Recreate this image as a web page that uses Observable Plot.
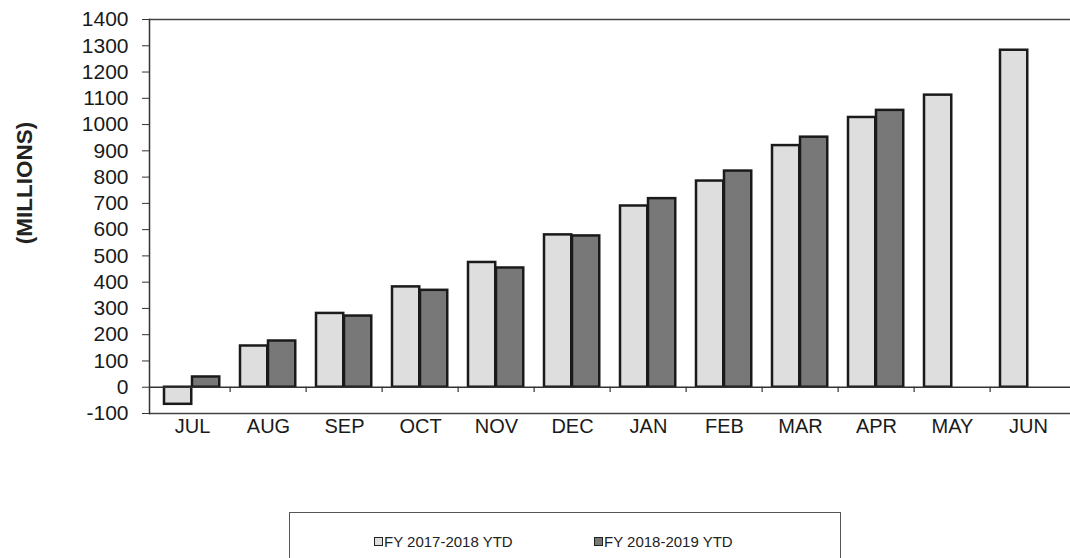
<!DOCTYPE html>
<html>
<head>
<meta charset="utf-8">
<script src="https://cdn.jsdelivr.net/npm/d3@7"></script>
<script src="https://cdn.jsdelivr.net/npm/@observablehq/plot@0.6"></script>
<style>
  html, body { margin: 0; padding: 0; background: #fff; overflow: hidden; }
  #wrap { position: relative; width: 1070px; height: 558px; font-family: "Liberation Sans", Arial, sans-serif; }
  #ylabel { position: absolute; left: 25px; top: 183px; transform: translate(-50%, -50%) rotate(-90deg);
            font-weight: bold; font-size: 22.5px; color: #222; white-space: nowrap; }
  #legend { position: absolute; left: 289px; top: 512px; width: 552px; height: 70px;
            border: 1.5px solid #555; box-sizing: border-box; }
  .item { position: absolute; top: 20px; font-size: 15px; color: #222; display: flex; align-items: center; }
  .sw { width: 7px; height: 7px; border: 1.5px solid #222; margin-right: 1px; }
</style>
</head>
<body>
<div id="wrap">
  <div id="chart"></div>
  <div id="ylabel">(MILLIONS)</div>
  <div id="legend"></div>
</div>
<script>
const months = ["JUL","AUG","SEP","OCT","NOV","DEC","JAN","FEB","MAR","APR","MAY","JUN"];
const series = ["FY 2017-2018 YTD", "FY 2018-2019 YTD"];
const fy1718 = [-65, 157, 281, 382, 475, 580, 690, 785, 920, 1027, 1112, 1283];
const fy1819 = [39, 176, 271, 369, 454, 576, 718, 823, 952, 1054, null, null];
const yTicks = [-100,0,100,200,300,400,500,600,700,800,900,1000,1100,1200,1300,1400];
const colors = ["#dedede", "#787878"];

const rowsA = months.map((m, i) => ({month: m, value: fy1718[i]}));
const rowsB = months.map((m, i) => ({month: m, value: fy1819[i]})).filter(d => d.value != null);
const bounds = months.slice(1);

const width = 1070, height = 470, mL = 149, mR = 0;
const step = (width - mL - mR) / months.length;

const chart = Plot.plot({
  width, height,
  marginLeft: mL, marginRight: mR, marginTop: 19, marginBottom: 57,
  style: {fontFamily: "'Liberation Sans', Arial, sans-serif", fontSize: "21px", color: "#1a1a1a", background: "#fff"},
  x: {domain: months, padding: 0, axis: null},
  y: {domain: [-100, 1400], axis: null},
  marks: [
    Plot.ruleY([-100, 1400], {stroke: "#444", strokeWidth: 1.5}),
    Plot.frame({anchor: "left", stroke: "#333", strokeWidth: 1.5}),
    Plot.barY(rowsA, {x: "month", y: "value", fill: colors[0], stroke: "#1a1a1a", strokeWidth: 2.5,
      insetLeft: 10, insetRight: step - 38}),
    Plot.barY(rowsB, {x: "month", y: "value", fill: colors[1], stroke: "#1a1a1a", strokeWidth: 2.5,
      insetLeft: 38, insetRight: step - 66}),
    Plot.ruleY([0], {stroke: "#333", strokeWidth: 1.5}),
    Plot.ruleX(bounds, {x: d => d, y1: 0, y2: -20, dx: -step / 2, stroke: "#333", strokeWidth: 1.2}),
    Plot.axisY({ticks: yTicks, tickFormat: d => String(d), tickSize: 7, tickPadding: 14, fontSize: 21, label: null, stroke: "#333"}),
    Plot.axisX({tickSize: 0, tickPadding: 5, fontSize: 20, label: null})
  ]
});
document.getElementById("chart").appendChild(chart);

const legend = document.getElementById("legend");
const lefts = [84, 304];
series.forEach((s, i) => {
  const it = document.createElement("div");
  it.className = "item";
  it.style.left = lefts[i] + "px";
  const sw = document.createElement("span");
  sw.className = "sw";
  sw.style.background = colors[i];
  it.appendChild(sw);
  const t = document.createElement("span");
  t.textContent = s;
  it.appendChild(t);
  legend.appendChild(it);
});
</script>
</body>
</html>
